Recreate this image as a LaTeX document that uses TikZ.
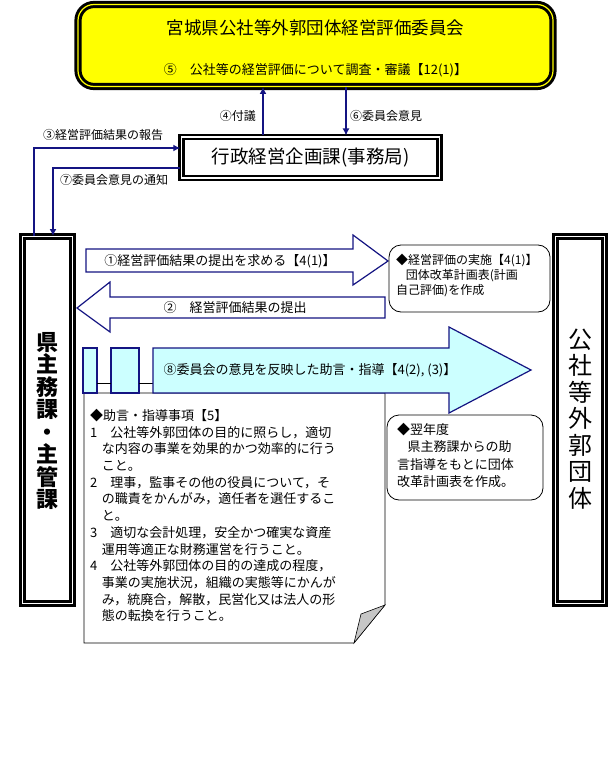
\documentclass[tikz,border=0pt]{standalone}
\usepackage{fontspec}
\setmainfont{Noto Sans CJK JP}
\begin{document}
\begin{tikzpicture}[x=1pt,y=-1pt,
  nv/.style={draw=navy,line width=1.2pt},
  con/.style={navy,line width=1.6pt,-{Latex[length=7pt,width=7pt]}},
  lbl/.style={font=\fontsize{12}{13}\selectfont,inner sep=0pt},
  rbox/.style={draw=black,rounded corners=12pt,line width=0.8pt,fill=white}]
\usetikzlibrary{arrows.meta}
\definecolor{navy}{RGB}{20,20,130}
\definecolor{lcyan}{RGB}{204,255,255}
\definecolor{yel}{RGB}{255,255,0}
\useasboundingbox (0,0) rectangle (607,762);
% committee
\node[draw=black,line width=3pt,double=yel,double distance=1.2pt,fill=yel,rounded corners=16pt,minimum width=475pt,minimum height=82pt] (com) at (315.5,45.5) {};
\node[font=\fontsize{17.5}{18}\selectfont] (com1) at (315.5,28) {宮城県公社等外郭団体経営評価委員会};
\node[font=\fontsize{13}{14}\selectfont] (com2) at (315.5,70) {⑤\quad 公社等の経営評価について調査・審議【12(1)】};
% office
\node[draw=black,line width=2.5pt,double=white,double distance=1.5pt,fill=white,minimum width=258pt,minimum height=41pt] (off) at (310.5,157.5) {};
\node[font=\fontsize{18.5}{19}\selectfont] (offt) at (310.5,158) {行政経営企画課(事務局)};
\coordinate (a4s) at (263,135.5); \coordinate (a4e) at (263,87);
\coordinate (a6s) at (346,87); \coordinate (a6e) at (346,135.5);
\draw[con] (a4s) -- (a4e);
\draw[con] (a6s) -- (a6e);
\node[lbl,anchor=east] (l4) at (256,116) {④付議};
\node[lbl,anchor=west] (l6) at (350,116) {⑥委員会意見};
% left / right boxes
\node[draw=black,line width=2.5pt,double=white,double distance=1.5pt,fill=white,minimum width=50pt,minimum height=367pt] (left) at (47.5,420) {};
\node[font=\fontsize{22}{22.5}\selectfont\bfseries,align=center] (leftt) at (47.5,421) {県\\主\\務\\課\\・\\主\\管\\課};
\node[draw=black,line width=2.5pt,double=white,double distance=1.5pt,fill=white,minimum width=49pt,minimum height=367pt] (right) at (580,420) {};
\node[font=\fontsize{24}{26.5}\selectfont,align=center] (rightt) at (580,419) {公\\社\\等\\外\\郭\\団\\体};
% 3 and 7
\coordinate (c3a) at (34,236); \coordinate (c3b) at (34,148);
\draw[con] (c3a) -- (c3b) -- (off.west |- c3b);
\node[lbl] (l3) at (103,135) {③経営評価結果の報告};
\coordinate (c7a) at (53,168); \coordinate (c7b) at (53,236);
\draw[con] (off.west |- c7a) -- (c7a) -- (c7b);
\node[lbl] (l7) at (114,180) {⑦委員会意見の通知};
% arrow 1
\draw[nv,fill=white] (86,249) -- (353,249) -- (353,235) -- (388,261) -- (353,285) -- (353,272) -- (86,272) -- cycle;
\node[lbl,font=\fontsize{13}{14}\selectfont] (l1) at (220,261) {①経営評価結果の提出を求める【4(1)】};
\node[rbox,minimum width=161pt,minimum height=67pt] (b1) at (469.5,278.5) {};
\node[lbl,anchor=north west,align=left,font=\fontsize{12}{15}\selectfont] (b1t) at (396,254) {◆経営評価の実施【4(1)】\\\hspace*{0.8em}団体改革計画表(計画\\自己評価)を作成};
% arrow 2
\draw[nv,fill=white] (385,297) -- (110,297) -- (110,282) -- (77,308) -- (110,332) -- (110,318) -- (385,318) -- cycle;
\node[lbl,font=\fontsize{13}{14}\selectfont] (l2) at (235,308) {②\quad 経営評価結果の提出};
% note
\draw[black,line width=0.6pt,fill=white] (84,393) -- (385,393) -- (385,605) -- (354,643) -- (84,643) -- cycle;
\draw[black,line width=0.6pt,fill=gray!45] (385,605) -- (361,614) -- (354,643) -- cycle;
\node[anchor=north west,align=left,inner sep=0pt,font=\fontsize{13}{16.7}\selectfont] (note) at (90,409) {◆助言・指導事項【5】\\
1\quad 公社等外郭団体の目的に照らし，適切\\
\hspace*{0.9em}な内容の事業を効果的かつ効率的に行う\\
\hspace*{0.9em}こと。\\
2\quad 理事，監事その他の役員について，そ\\
\hspace*{0.9em}の職責をかんがみ，適任者を選任するこ\\
\hspace*{0.9em}と。\\
3\quad 適切な会計処理，安全かつ確実な資産\\
\hspace*{0.9em}運用等適正な財務運営を行うこと。\\
4\quad 公社等外郭団体の目的の達成の程度，\\
\hspace*{0.9em}事業の実施状況，組織の実態等にかんが\\
\hspace*{0.9em}み，統廃合，解散，民営化又は法人の形\\
\hspace*{0.9em}態の転換を行うこと。};
% arrow 8
\draw[nv,fill=lcyan] (83,348) rectangle (97,393);
\draw[nv,fill=lcyan] (111,348) rectangle (139,393);
\draw[black,line width=0.6pt] (97,383) -- (111,383) (139,383) -- (153,383);
\draw[nv,fill=lcyan] (153,348) -- (449,348) -- (449,327) -- (531,370) -- (449,413) -- (449,393) -- (153,393) -- cycle;
\node[lbl,font=\fontsize{13}{14}\selectfont] (l8) at (310,370) {⑧委員会の意見を反映した助言・指導【4(2), (3)】};
% next year
\node[rbox,minimum width=156pt,minimum height=85pt] (b2) at (465,457.5) {};
\node[lbl,anchor=north west,align=left,font=\fontsize{13}{17.5}\selectfont] (b2t) at (397,423) {◆翌年度\\\hspace*{0.8em}県主務課からの助\\言指導をもとに団体\\改革計画表を作成。};
\end{tikzpicture}
\end{document}
